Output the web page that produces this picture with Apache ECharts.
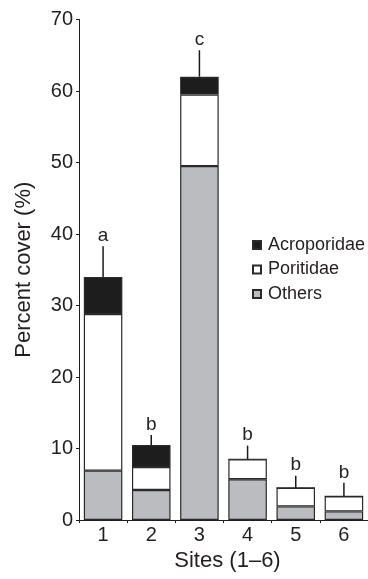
<!DOCTYPE html>
<html>
<head>
<meta charset="utf-8">
<script src="https://cdn.jsdelivr.net/npm/echarts@6/dist/echarts.min.js"></script>
<style>
html,body{margin:0;padding:0;background:#fff;}
#chart{width:368px;height:579px;}
</style>
</head>
<body>
<div id="chart"></div>
<script>
var sites = ['1', '2', '3', '4', '5', '6'];
var others = [6.9, 4.2, 49.5, 5.7, 1.9, 1.2];
var poritidae = [21.9, 3.2, 10.0, 2.8, 2.6, 2.1];
var acroporidae = [5.2, 3.1, 2.5, 0, 0, 0];
var errorTop = [38.3, 11.9, 65.7, 10.4, 6.2, 5.2];
var letters = ['a', 'b', 'c', 'b', 'b', 'b'];
var yTicks = [0, 10, 20, 30, 40, 50, 60, 70];

var FONT = '"Liberation Sans", Arial, Helvetica, sans-serif';
var TXT = '#231f20';
var EDGE = '#2a2a2a';

var totals = sites.map(function (s, i) { return others[i] + poritidae[i] + acroporidae[i]; });
var errData = sites.map(function (s, i) { return [i, totals[i], errorTop[i], letters[i]]; });

var chart = echarts.init(document.getElementById('chart'), null, {renderer: 'canvas'});
chart.setOption({
  animation: false,
  backgroundColor: '#fff',
  textStyle: {fontFamily: FONT, color: TXT},
  grid: {left: 79, right: 0, top: 19.5, bottom: 59, containLabel: false},
  legend: {
    data: ['Acroporidae', 'Poritidae', 'Others'],
    orient: 'vertical',
    left: 252,
    top: 236,
    itemWidth: 8,
    itemHeight: 8,
    itemGap: 6.5,
    padding: 0,
    icon: 'rect',
    textStyle: {fontFamily: FONT, fontSize: 18, color: TXT, padding: [0, 0, 0, 2]}
  },
  xAxis: {
    type: 'category',
    data: sites,
    name: 'Sites (1–6)',
    nameLocation: 'middle',
    nameGap: 29,
    nameTextStyle: {fontFamily: FONT, fontSize: 22, color: TXT, padding: [0, 0, 0, 8]},
    axisLine: {show: true, lineStyle: {color: TXT, width: 1}},
    axisTick: {show: true, length: 3, alignWithLabel: false, lineStyle: {color: TXT}},
    axisLabel: {fontFamily: FONT, fontSize: 20, color: TXT, margin: 5},
    splitLine: {show: false}
  },
  yAxis: {
    type: 'value',
    min: 0,
    max: 70,
    interval: 10,
    name: 'Percent cover (%)',
    nameLocation: 'middle',
    nameGap: 44,
    nameRotate: 90,
    nameTextStyle: {fontFamily: FONT, fontSize: 22, color: TXT},
    axisLine: {show: true, lineStyle: {color: TXT, width: 1}},
    axisTick: {show: true, length: 3, lineStyle: {color: TXT}},
    axisLabel: {fontFamily: FONT, fontSize: 20, color: TXT, margin: 6,
      formatter: function (v) { return yTicks.indexOf(v) >= 0 ? String(v) : ''; }},
    splitLine: {show: false}
  },
  series: [
    {
      name: 'Others', type: 'bar', stack: 'cover', data: others,
      barCategoryGap: '20%',
      itemStyle: {color: '#bbbcbf', borderColor: EDGE, borderWidth: 1.2}
    },
    {
      name: 'Poritidae', type: 'bar', stack: 'cover', data: poritidae,
      itemStyle: {color: '#ffffff', borderColor: EDGE, borderWidth: 1.2}
    },
    {
      name: 'Acroporidae', type: 'bar', stack: 'cover', data: acroporidae,
      itemStyle: {color: '#1d1d1d', borderColor: EDGE, borderWidth: 1.2}
    },
    {
      name: 'err', type: 'custom', data: errData, z: 10,
      encode: {x: 0, y: [1, 2]},
      renderItem: function (params, api) {
        var x = api.value(0);
        var p0 = api.coord([x, api.value(1)]);
        var p1 = api.coord([x, api.value(2)]);
        var lbl = letters[params.dataIndex];
        return {
          type: 'group',
          children: [
            {type: 'line', shape: {x1: p0[0], y1: p0[1], x2: p1[0], y2: p1[1]},
              style: {stroke: '#1a1a1a', lineWidth: 1.5}},
            {type: 'text', x: p1[0], y: p1[1] - 1,
              style: {text: lbl, fontFamily: FONT, fontSize: 19, fill: TXT,
                align: 'center', verticalAlign: 'bottom'}}
          ]
        };
      }
    }
  ]
});
</script>
</body>
</html>
